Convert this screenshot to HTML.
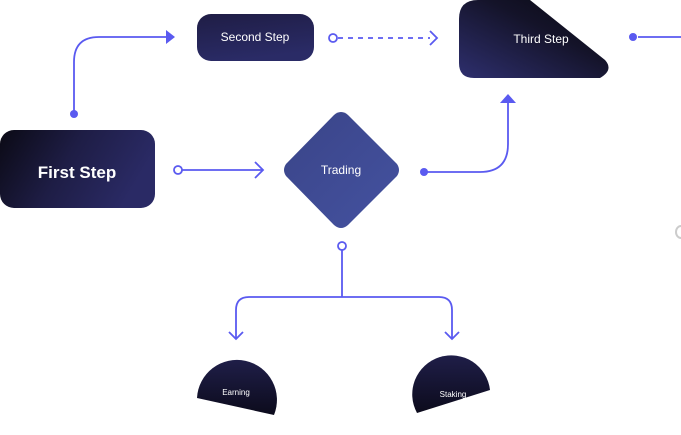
<!DOCTYPE html>
<html><head><style>
html,body{margin:0;padding:0;background:#fff;}
body{width:681px;height:435px;overflow:hidden;position:relative;font-family:"Liberation Sans",sans-serif;}
</style></head><body>
<svg width="681" height="435" viewBox="0 0 681 435" xmlns="http://www.w3.org/2000/svg" style="position:absolute;left:0;top:0">
<defs>
<linearGradient id="g1" x1="0" y1="0" x2="1" y2="0.3">
<stop offset="0" stop-color="#0b0a15"/><stop offset="0.5" stop-color="#1e1d45"/><stop offset="1" stop-color="#2a2a65"/></linearGradient>
<linearGradient id="g2" x1="0" y1="0" x2="0.3" y2="1">
<stop offset="0" stop-color="#1f1d45"/><stop offset="1" stop-color="#2a2b66"/></linearGradient>
<linearGradient id="g3" x1="0" y1="1" x2="1" y2="0">
<stop offset="0" stop-color="#2e2f6e"/><stop offset="0.6" stop-color="#141329"/><stop offset="1" stop-color="#080810"/></linearGradient>
<linearGradient id="g4" x1="0" y1="0" x2="0" y2="1">
<stop offset="0" stop-color="#1f1e48"/><stop offset="1" stop-color="#0c0b1c"/></linearGradient>
<linearGradient id="g5" x1="0" y1="0" x2="1" y2="1">
<stop offset="0" stop-color="#3a4488"/><stop offset="1" stop-color="#4452a0"/></linearGradient>
</defs>
<g fill="none" stroke="#5a5af0" stroke-width="1.8">
<path d="M74 114 V62 Q74 37 99 37 H168"/>
<path d="M338 38 H430" stroke-dasharray="5 5"/>
<path d="M430 31 L437 38 L430 45"/>
<path d="M638 37 H681"/>
<path d="M182 170 H262"/>
<path d="M255 162 L263 170 L255 178"/>
<path d="M424 172 H480 Q508 172 508 144 V102"/>
<path d="M342 250 V297"/>
<path d="M236 338 V310 Q236 297 249 297 H439 Q452 297 452 310 V338"/>
<path d="M229 332 L236 339 L243 332"/>
<path d="M445 332 L452 339 L459 332"/>
</g>
<path d="M166 30 L175 37 L166 44 Z" fill="#5a5af0"/>
<path d="M500 103 L508 94 L516 103 Z" fill="#5a5af0"/>
<circle cx="74" cy="114" r="4" fill="#5a5af0"/>
<circle cx="424" cy="172" r="4" fill="#5a5af0"/>
<circle cx="633" cy="37" r="4" fill="#5a5af0"/>
<g fill="#fff" stroke="#5a5af0" stroke-width="1.8">
<circle cx="333" cy="38" r="4"/>
<circle cx="178" cy="170" r="4"/>
<circle cx="342" cy="246" r="4"/>
</g>
<rect x="0" y="130" width="155" height="78" rx="14" fill="url(#g1)"/>
<rect x="197" y="14" width="117" height="47" rx="14" fill="url(#g2)"/>
<path d="M478 0 H530 L605 60 Q614 70 600 78 H474 Q459 78 459 63 V19 Q459 0 478 0 Z" fill="url(#g3)"/>
<path d="M341 112 Q345 112 348 115 L397 164 Q401 170 397 176 L348 225 Q341 231 334 225 L286 176 Q282 170 286 164 L334 115 Q337 112 341 112 Z" fill="url(#g5)"/>
<path d="M197 398 A40 40 0 1 1 274 415 Z" fill="url(#g4)"/>
<path d="M417 413 A39 39 0 1 1 490 390 Z" fill="url(#g4)"/>
<g fill="#fff" text-anchor="middle">
<text x="77" y="178" font-size="17" font-weight="bold">First Step</text>
<text x="255" y="41" font-size="12">Second Step</text>
<text x="541" y="43" font-size="12">Third Step</text>
<text x="341" y="174" font-size="12">Trading</text>
<text x="236" y="395" font-size="8">Earning</text>
<text x="453" y="397" font-size="8">Staking</text>
</g>
<path d="M681 226 A5 6 0 0 0 681 238" fill="none" stroke="#ccc" stroke-width="2"/>
</svg>
</body></html>
